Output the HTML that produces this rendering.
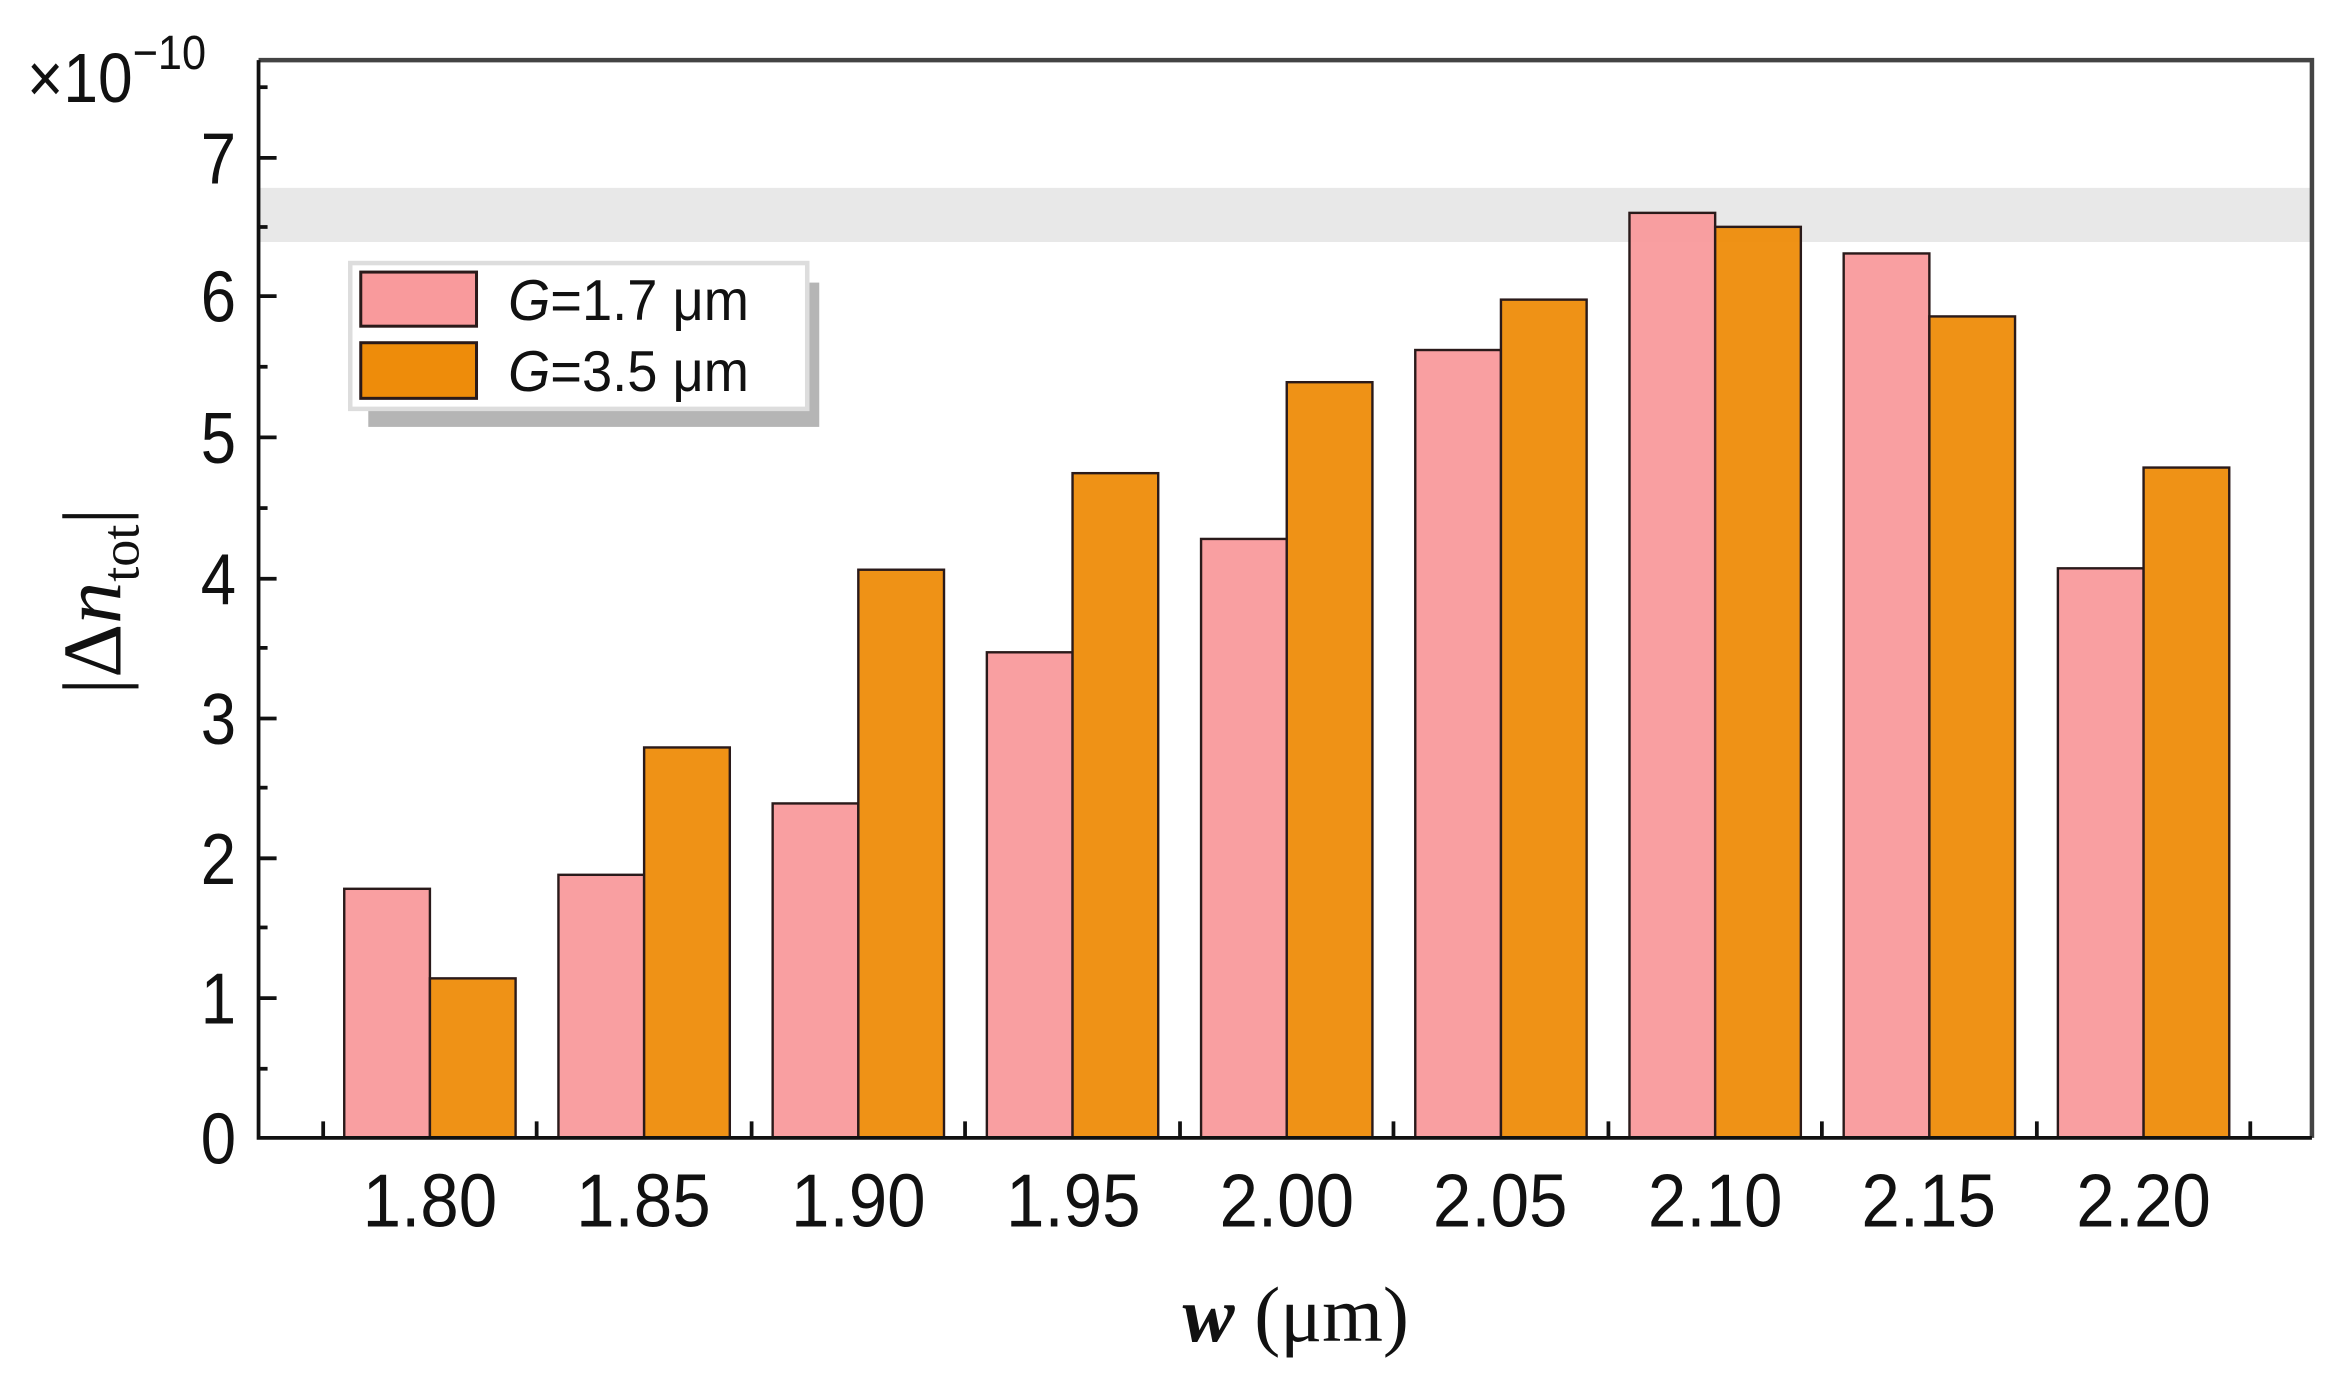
<!DOCTYPE html>
<html><head><meta charset="utf-8"><style>
html,body{margin:0;padding:0;background:#fff;}
svg{display:block;}
</style></head><body>
<svg width="2345" height="1373" viewBox="0 0 1560 913.4" preserveAspectRatio="none" xmlns="http://www.w3.org/2000/svg" font-family="Liberation Sans, sans-serif">
<rect x="0" y="0" width="1560" height="914" fill="#fff"/>
<rect x="173" y="125" width="1364" height="36" fill="#e8e8e8"/>
<g stroke="#2a1a1a" stroke-width="1.6">
<g id="bars"></g>
</g>
<script>
(function(){
var pink=[1.78,1.88,2.39,3.47,4.28,5.63,6.61,6.32,4.07];
var org=[1.14,2.79,4.06,4.75,5.40,5.99,6.51,5.87,4.79];
var g=document.getElementById('bars');var ns='http://www.w3.org/2000/svg';
function y(v){return 757-v*93.1;}
for(var i=0;i<9;i++){var c=286+i*142.5;
 var r=document.createElementNS(ns,'rect');r.setAttribute('x',c-57);r.setAttribute('y',y(pink[i]));r.setAttribute('width',57);r.setAttribute('height',757-y(pink[i]));r.setAttribute('fill','#f99a9c');r.setAttribute('fill-opacity','0.95');g.appendChild(r);
 r=document.createElementNS(ns,'rect');r.setAttribute('x',c);r.setAttribute('y',y(org[i]));r.setAttribute('width',57);r.setAttribute('height',757-y(org[i]));r.setAttribute('fill','#ee8c0a');r.setAttribute('fill-opacity','0.95');g.appendChild(r);
}
})();
</script>
<path d="M172 40 H1538 V757" fill="none" stroke="#444" stroke-width="3"/>
<path d="M172 40 V757 H1538" fill="none" stroke="#111" stroke-width="2.5"/>
<g stroke="#111" stroke-width="2.5">
<line x1="172" y1="105" x2="184" y2="105"/><line x1="172" y1="197" x2="184" y2="197"/>
<line x1="172" y1="291" x2="184" y2="291"/><line x1="172" y1="385" x2="184" y2="385"/>
<line x1="172" y1="478" x2="184" y2="478"/><line x1="172" y1="571" x2="184" y2="571"/>
<line x1="172" y1="664" x2="184" y2="664"/>
<line x1="172" y1="58" x2="178" y2="58"/><line x1="172" y1="151" x2="178" y2="151"/>
<line x1="172" y1="244" x2="178" y2="244"/><line x1="172" y1="338" x2="178" y2="338"/>
<line x1="172" y1="431" x2="178" y2="431"/><line x1="172" y1="524" x2="178" y2="524"/>
<line x1="172" y1="617" x2="178" y2="617"/><line x1="172" y1="711" x2="178" y2="711"/>
<line x1="215" y1="757" x2="215" y2="746"/><line x1="357" y1="757" x2="357" y2="746"/>
<line x1="500" y1="757" x2="500" y2="746"/><line x1="642" y1="757" x2="642" y2="746"/>
<line x1="785" y1="757" x2="785" y2="746"/><line x1="927" y1="757" x2="927" y2="746"/>
<line x1="1070" y1="757" x2="1070" y2="746"/><line x1="1212" y1="757" x2="1212" y2="746"/>
<line x1="1355" y1="757" x2="1355" y2="746"/><line x1="1497" y1="757" x2="1497" y2="746"/>
</g>
<g font-size="48" fill="#111" text-anchor="end">
<text transform="translate(157,122) scale(0.88,1)">7</text>
<text transform="translate(157,214) scale(0.88,1)">6</text>
<text transform="translate(157,308) scale(0.88,1)">5</text>
<text transform="translate(157,402) scale(0.88,1)">4</text>
<text transform="translate(157,495) scale(0.88,1)">3</text>
<text transform="translate(157,588) scale(0.88,1)">2</text>
<text transform="translate(157,681) scale(0.88,1)">1</text>
<text transform="translate(157,774) scale(0.88,1)">0</text>
</g>
<text transform="translate(18,68) scale(0.9,1)" font-size="46" fill="#111">×10<tspan font-size="32" dy="-22">−10</tspan></text>
<g font-size="50" fill="#111" text-anchor="middle">
<text transform="translate(286,816) scale(0.92,1)">1.80</text>
<text transform="translate(428,816) scale(0.92,1)">1.85</text>
<text transform="translate(571,816) scale(0.92,1)">1.90</text>
<text transform="translate(714,816) scale(0.92,1)">1.95</text>
<text transform="translate(856,816) scale(0.92,1)">2.00</text>
<text transform="translate(998,816) scale(0.92,1)">2.05</text>
<text transform="translate(1141,816) scale(0.92,1)">2.10</text>
<text transform="translate(1283,816) scale(0.92,1)">2.15</text>
<text transform="translate(1426,816) scale(0.92,1)">2.20</text>
</g>
<text x="862" y="892" font-family="Liberation Serif, serif" font-size="52" text-anchor="middle" fill="#111"><tspan font-weight="bold" font-style="italic">w</tspan> (μm)</text>
<text transform="translate(80,400) rotate(-90)" font-family="Liberation Serif, serif" font-size="56" text-anchor="middle" fill="#111">|Δ<tspan font-style="italic">n</tspan><tspan font-size="36" dy="12">tot</tspan><tspan dy="-12">|</tspan></text>
<rect x="245" y="188" width="300" height="96" fill="#b5b5b5"/>
<rect x="233" y="175" width="304" height="97" fill="#fff" stroke="#ddd" stroke-width="3"/>
<rect x="240" y="181" width="77" height="36" fill="#f99a9c" stroke="#2a1a1a" stroke-width="2"/>
<rect x="240" y="228" width="77" height="37" fill="#ee8c0a" stroke="#2a1a1a" stroke-width="2"/>
<g font-size="38" fill="#111">
<text transform="translate(338,213) scale(0.95,1)"><tspan font-style="italic">G</tspan>=1.7 μm</text>
<text transform="translate(338,260) scale(0.95,1)"><tspan font-style="italic">G</tspan>=3.5 μm</text>
</g>
</svg>
</body></html>
